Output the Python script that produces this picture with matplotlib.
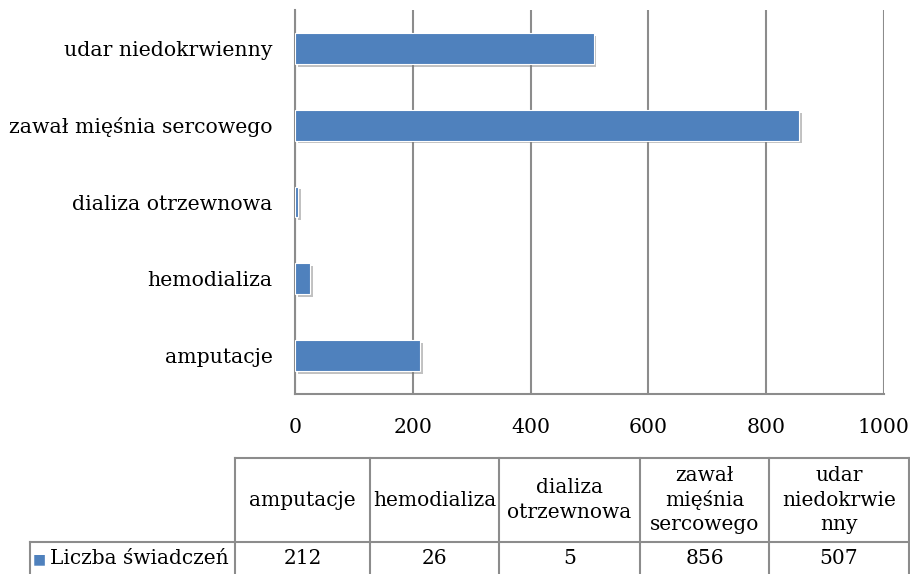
import matplotlib.pyplot as plt
import matplotlib.patheffects as pe
from matplotlib.lines import Line2D

categories = ['amputacje', 'hemodializa', 'dializa otrzewnowa',
              'zawał mięśnia sercowego', 'udar niedokrwienny']
header_labels = ['amputacje', 'hemodializa', 'dializa\notrzewnowa',
                 'zawał\nmięśnia\nsercowego', 'udar\nniedokrwie\nnny']
values = [212, 26, 5, 856, 507]
series_name = 'Liczba świadczeń'
xticks = [0, 200, 400, 600, 800, 1000]

W, H = 910, 574
plt.rcParams['font.family'] = ['DejaVu Serif']
fig = plt.figure(figsize=(W / 100, H / 100), dpi=100)

def fx(px):
    return px / W

def fy(py):
    return 1 - py / H

ax = fig.add_axes([fx(295), fy(394), fx(884) - fx(295), fy(10) - fy(394)])
bar_color = '#4F81BD'
grid_color = '#8c8c8c'

bars = ax.barh(range(len(values)), values, height=0.4, color=bar_color,
               edgecolor='white', linewidth=0.8, zorder=3)
for b in bars:
    b.set_path_effects([pe.SimplePatchShadow(offset=(2, -2), shadow_rgbFace='#777777', alpha=0.45),
                        pe.Normal()])

ax.set_xlim(0, 1000)
ax.set_ylim(-0.5, 4.5)
ax.set_xticks(xticks)
ax.set_yticks(range(len(categories)))
ax.set_yticklabels(categories)
ax.tick_params(axis='both', length=0, labelsize=14.7)
ax.tick_params(axis='y', pad=16)
ax.tick_params(axis='x', pad=17)
ax.xaxis.grid(True, color=grid_color, linewidth=1.5, zorder=0)
for s in ['top', 'right']:
    ax.spines[s].set_visible(False)
for s in ['left', 'bottom']:
    ax.spines[s].set_color(grid_color)
    ax.spines[s].set_linewidth(1.5)

# data table under the chart
col_edges = [235, 370, 499, 640, 769, 909]
row_top, row_mid, row_bot = 458, 542, 576
lw = 1.5

def hline(x0, x1, y):
    fig.add_artist(Line2D([fx(x0), fx(x1)], [fy(y), fy(y)], color=grid_color, lw=lw))

def vline(x, y0, y1):
    fig.add_artist(Line2D([fx(x), fx(x)], [fy(y0), fy(y1)], color=grid_color, lw=lw))

label_txt = fig.text(fx(229), fy((row_mid + row_bot) / 2), series_name, ha='right',
                     va='center', fontsize=14.5)
fig.canvas.draw()
bb = label_txt.get_window_extent()
key_right = bb.x0 - 4
fig.text(key_right / W, fy((row_mid + row_bot) / 2), '■', ha='right', va='center',
         fontsize=10, color=bar_color)
left_edge = key_right - 16

hline(col_edges[0], col_edges[-1], row_top)
hline(left_edge, col_edges[-1], row_mid)
hline(left_edge, col_edges[-1], row_bot)
vline(left_edge, row_mid, row_bot)
vline(col_edges[0], row_top, row_bot)
for x in col_edges[1:]:
    vline(x, row_top, row_bot)

for i, (lab, v) in enumerate(zip(header_labels, values)):
    cx = (col_edges[i] + col_edges[i + 1]) / 2
    fig.text(fx(cx), fy((row_top + row_mid) / 2), lab, ha='center', va='center',
             fontsize=14.5, linespacing=1.35)
    fig.text(fx(cx), fy((row_mid + row_bot) / 2), str(v), ha='center', va='center',
             fontsize=14.5)

plt.savefig('out.png', dpi=100)
